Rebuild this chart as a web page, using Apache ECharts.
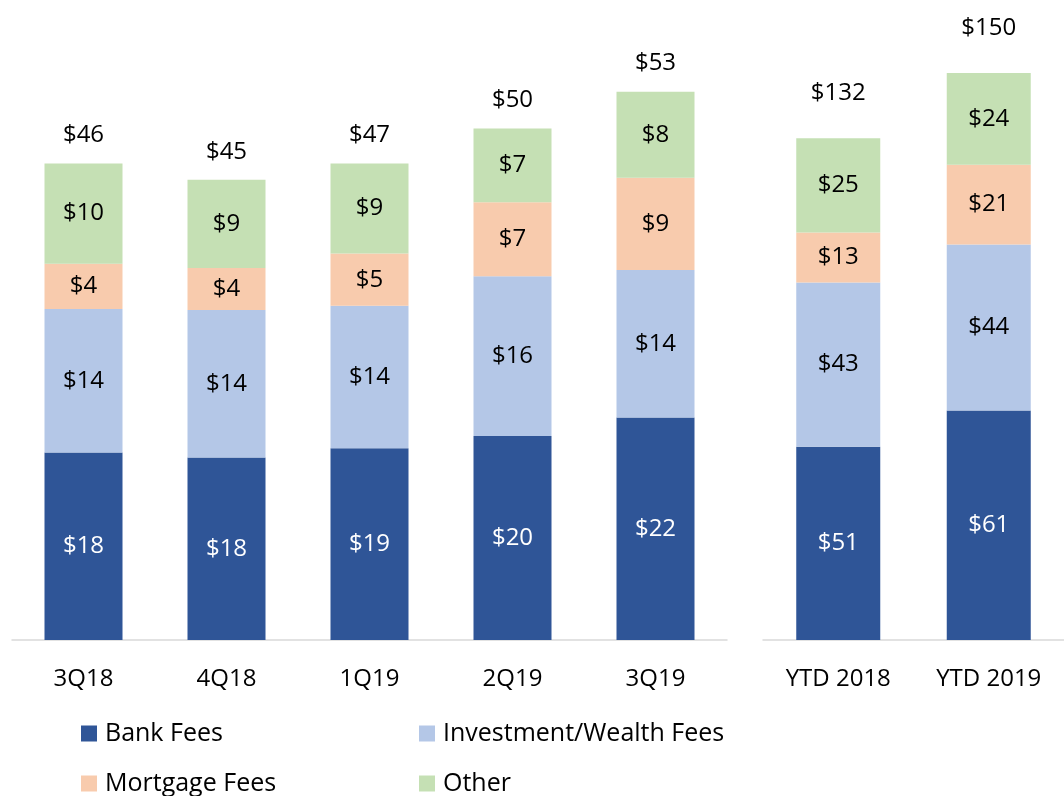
<!DOCTYPE html>
<html>
<head>
<meta charset="utf-8">
<script src="https://cdn.jsdelivr.net/npm/echarts@6/dist/echarts.min.js"></script>
<style>
  html, body { margin: 0; padding: 0; background: #fff; }
  #chart { width: 1064px; height: 796px; }
</style>
</head>
<body>
<div id="chart"></div>
<script>
// quarterly data ($M; labels show rounded values)
var quarters = ['3Q18', '4Q18', '1Q19', '2Q19', '3Q19'];
var bankQ = [18.3, 17.8, 18.7, 19.9, 21.7];
var investQ = [14.0, 14.4, 13.9, 15.6, 14.4];
var mortgageQ = [4.4, 4.1, 5.1, 7.2, 9.0];
var otherQ = [9.8, 8.6, 8.8, 7.2, 8.4];
var totalQ = [46, 45, 47, 50, 53];

// year to date data
var ytdCats = ['YTD 2018', 'YTD 2019'];
var bankY = [51.0, 60.6];
var investY = [43.4, 43.8];
var mortgageY = [13.2, 21.1];
var otherY = [24.9, 24.2];
var totalY = [132, 150];

var names = ['Bank Fees', 'Investment/Wealth Fees', 'Mortgage Fees', 'Other'];
var colors = ['#2F5597', '#B4C7E7', '#F8CBAD', '#C5E0B4'];
var labelColors = ['#ffffff', '#000000', '#000000', '#000000'];
var font = '"Open Sans", "Noto Sans", sans-serif';

var myChart = echarts.init(document.getElementById('chart'));

function barSeries(idx, axis, data, width) {
    return {
        name: names[idx],
        type: 'bar',
        stack: 'fees' + axis,
        xAxisIndex: axis,
        yAxisIndex: axis,
        barWidth: width,
        data: data,
        itemStyle: { color: colors[idx] },
        label: {
            show: true,
            position: 'inside',
            formatter: function (p) { return '$' + Math.round(p.value); },
            color: labelColors[idx],
            fontFamily: font,
            fontSize: 24
        },
        emphasis: { disabled: true }
    };
}

// total label sits on top of the stack
function totalSeries(axis, parts, totals, dist) {
    var tops = totals.map(function (t, i) {
        return parts.reduce(function (s, arr) { return s + arr[i]; }, 0);
    });
    return {
        name: 'Total',
        type: 'scatter',
        xAxisIndex: axis,
        yAxisIndex: axis,
        symbolSize: 0,
        data: tops,
        itemStyle: { opacity: 1 },
        label: {
            show: true,
            position: 'top',
            distance: dist,
            formatter: function (p) { return '$' + totals[p.dataIndex]; },
            color: '#000',
            opacity: 1,
            fontFamily: font,
            fontSize: 24
        },
        emphasis: { disabled: true }
    };
}

function xAxisOf(idx, cats) {
    return {
        type: 'category',
        gridIndex: idx,
        data: cats,
        axisTick: { show: false },
        axisLine: { lineStyle: { color: '#D9D9D9', width: 1.5 } },
        axisLabel: { color: '#000', fontFamily: font, fontSize: 24, margin: 27 }
    };
}

function legendOf(name, left, top) {
    return {
        data: [name],
        left: left,
        top: top,
        padding: 0,
        itemWidth: 16,
        itemHeight: 16,
        icon: 'rect',
        selectedMode: false,
        textStyle: { color: '#000', fontFamily: font, fontSize: 25, padding: [0, 0, 0, 3] }
    };
}

myChart.setOption({
    animation: false,
    grid: [
        { left: 12, width: 715, top: 25, height: 615 },
        { left: 763, width: 313, top: 34, height: 606 }
    ],
    xAxis: [xAxisOf(0, quarters), xAxisOf(1, ytdCats)],
    yAxis: [
        { type: 'value', gridIndex: 0, min: 0, max: 60, show: false },
        { type: 'value', gridIndex: 1, min: 0, max: 160, show: false }
    ],
    legend: [
        legendOf(names[0], 81, 721),
        legendOf(names[1], 419, 721),
        legendOf(names[2], 81, 771),
        legendOf(names[3], 419, 771)
    ],
    series: [
        barSeries(0, 0, bankQ, 78),
        barSeries(1, 0, investQ, 78),
        barSeries(2, 0, mortgageQ, 78),
        barSeries(3, 0, otherQ, 78),
        barSeries(0, 1, bankY, 84),
        barSeries(1, 1, investY, 84),
        barSeries(2, 1, mortgageY, 84),
        barSeries(3, 1, otherY, 84),
        totalSeries(0, [bankQ, investQ, mortgageQ, otherQ], totalQ, 16),
        totalSeries(1, [bankY, investY, mortgageY, otherY], totalY, 33)
    ]
});
</script>
</body>
</html>
